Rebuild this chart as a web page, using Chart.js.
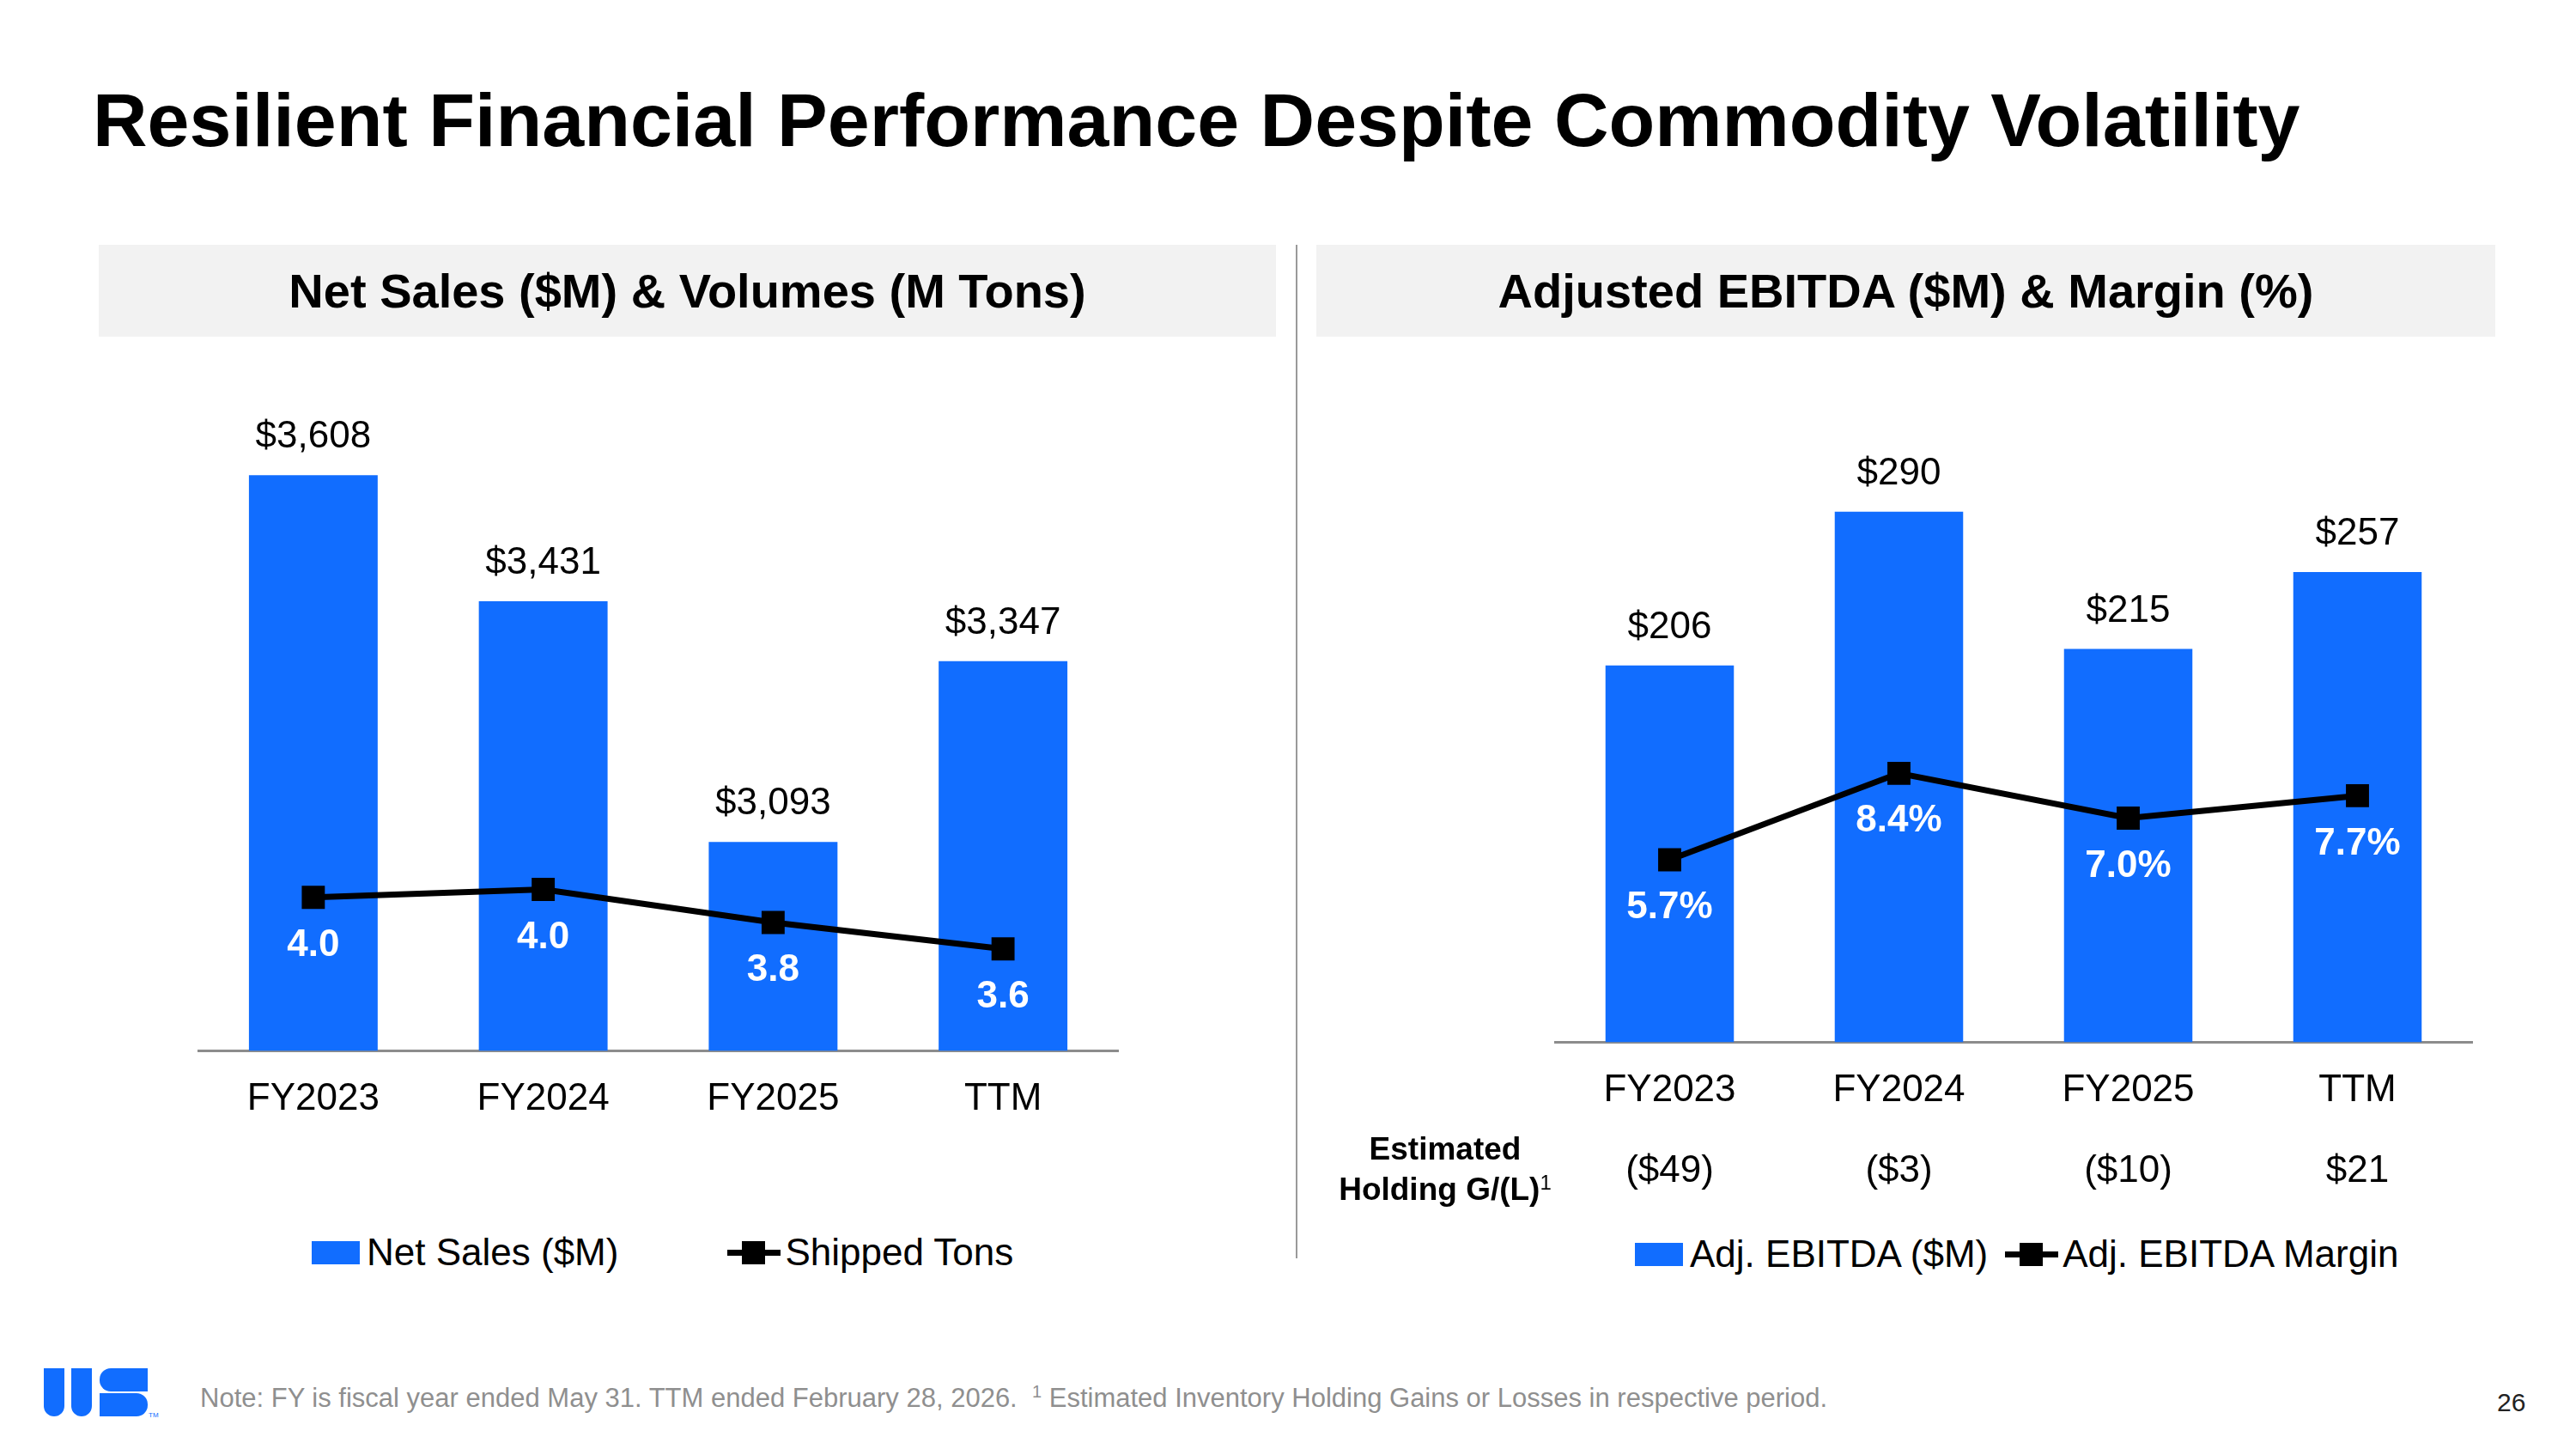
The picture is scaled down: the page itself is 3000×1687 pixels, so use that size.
<!DOCTYPE html>
<html>
<head>
<meta charset="utf-8">
<title>Resilient Financial Performance</title>
<script src="https://cdn.jsdelivr.net/npm/chart.js@4.4.1/dist/chart.umd.min.js"></script>
<style>
  html, body { margin: 0; padding: 0; background: #fff; }
  body {
    width: 3000px; height: 1687px; position: relative; overflow: hidden;
    font-family: 'Liberation Sans', Arial, sans-serif; color: #000;
  }
  canvas { position: absolute; }
  #title {
    position: absolute; left: 108px; top: 96px;
    font-size: 88px; font-weight: bold; line-height: 1; white-space: nowrap;
  }
  .panel-head {
    position: absolute; top: 285px; height: 107px; background: #f2f2f2;
    display: flex; align-items: center; justify-content: center;
    font-size: 56px; font-weight: bold; line-height: 1; white-space: nowrap;
  }
  #divider { position: absolute; left: 1509px; top: 285px; width: 2px; height: 1180px; background: #9a9a9a; }
  #holdingLabel {
    position: absolute; left: 1533px; top: 1314px; width: 300px;
    text-align: center; font-size: 37px; font-weight: bold; line-height: 47px; white-space: nowrap;
  }
  #holdingLabel sup { font-size: 24px; vertical-align: 12px; line-height: 0; font-weight: normal; }
  .legend {
    position: absolute; display: flex; align-items: center;
    height: 44px; font-size: 44px; line-height: 1; white-space: nowrap;
  }
  .leg-item { display: flex; align-items: center; }
  .key-bar { width: 56px; height: 27px; margin-right: 8px; }
  .key-line { position: relative; width: 62px; height: 27px; margin-right: 5px; }
  .key-line::before { content: ''; position: absolute; left: 0; right: 0; top: 10px; height: 7px; background: #000; }
  .key-line::after { content: ''; position: absolute; left: 17px; top: 0; width: 27px; height: 27px; background: #000; }
  #note {
    position: absolute; left: 233px; top: 1612px;
    font-size: 31px; line-height: 1; color: #8f8f8f; white-space: nowrap;
  }
  #note sup { font-size: 20px; vertical-align: 11px; line-height: 0; }
  #pageNo { position: absolute; left: 2908px; top: 1618px; font-size: 30px; line-height: 1; color: #222; }
  .logo { position: absolute; background: #116dff; }
  #tm { position: absolute; left: 173px; top: 1643px; font-size: 8px; color: #116dff; }
</style>
</head>
<body>

<div id="title">Resilient Financial Performance Despite Commodity Volatility</div>

<div class="panel-head" style="left:115px; width:1371px;">Net Sales ($M) &amp; Volumes (M Tons)</div>
<div class="panel-head" style="left:1533px; width:1373px;">Adjusted EBITDA ($M) &amp; Margin (%)</div>
<div id="divider"></div>

<canvas id="salesChart" width="1371" height="940" style="left:115px; top:400px;"></canvas>
<canvas id="ebitdaChart" width="1480" height="1010" style="left:1520px; top:400px;"></canvas>

<div id="holdingLabel">Estimated<br>Holding G/(L)<sup>1</sup></div>

<div class="legend" id="legendSales" style="left:363px; top:1436px;"></div>
<div class="legend" id="legendEbitda" style="left:1904px; top:1438px;"></div>

<div class="logo" style="left:51px; top:1593px; width:24px; height:56px; border-radius:0 0 12px 12px;"></div>
<div class="logo" style="left:83px; top:1593px; width:24px; height:56px; border-radius:0 0 12px 12px;"></div>
<div class="logo" style="left:116px; top:1593px; width:56px; height:27px; border-radius:13px 0 0 13px;"></div>
<div class="logo" style="left:116px; top:1622px; width:56px; height:27px; border-radius:0 13px 13px 0;"></div>
<div id="tm">TM</div>

<div id="note">Note: FY is fiscal year ended May 31. TTM ended February 28, 2026.&nbsp; <sup>1</sup> Estimated Inventory Holding Gains or Losses in respective period.</div>
<div id="pageNo">26</div>

<script>
// data
const periods = ['FY2023', 'FY2024', 'FY2025', 'TTM'];
const netSales = [3608, 3431, 3093, 3347];
const shippedTons = [3.96, 4.02, 3.77, 3.57];
const adjEbitda = [206, 290, 215, 257];
const ebitdaMargin = [5.7, 8.4, 7.0, 7.7];
const holdingGL = [-49, -3, -10, 21];

const BLUE = '#116dff';
const FONT = "'Liberation Sans', Arial, sans-serif";

Chart.defaults.font.family = FONT;
Chart.defaults.color = '#000';

const dollars = v => (v < 0 ? '($' + Math.abs(v).toLocaleString('en-US') + ')' : '$' + v.toLocaleString('en-US'));
const oneDec = v => v.toFixed(1);
const pct = v => v.toFixed(1) + '%';

// values above the bars, white bold values under the line points
function valueLabels(formats) {
  return {
    id: 'valueLabels',
    afterDatasetsDraw(chart) {
      const ctx = chart.ctx;
      ctx.save();
      ctx.textAlign = 'center';
      ctx.textBaseline = 'middle';
      chart.data.datasets.forEach((ds, i) => {
        const meta = chart.getDatasetMeta(i);
        meta.data.forEach((el, j) => {
          const txt = formats[i](ds.data[j]);
          if (ds.type === 'bar') {
            ctx.font = '44px ' + FONT;
            ctx.fillStyle = '#000';
            ctx.fillText(txt, el.x, el.y - 44);
          } else {
            ctx.font = 'bold 44px ' + FONT;
            ctx.fillStyle = '#fff';
            ctx.fillText(txt, el.x, el.y + 56);
          }
        });
      });
      ctx.restore();
    }
  };
}

function buildLegend(chart, id, gap) {
  const box = document.getElementById(id);
  chart.data.datasets.forEach((ds, i) => {
    const item = document.createElement('span');
    item.className = 'leg-item';
    if (i > 0) item.style.marginLeft = gap + 'px';
    const key = document.createElement('span');
    if (ds.type === 'bar') {
      key.className = 'key-bar';
      key.style.background = ds.backgroundColor;
    } else {
      key.className = 'key-line';
    }
    const txt = document.createElement('span');
    txt.textContent = ds.label;
    item.appendChild(key);
    item.appendChild(txt);
    box.appendChild(item);
  });
}

const xAxis = {
  grid: { display: false, drawTicks: false },
  border: { display: true, color: '#8c8c8c', width: 3 },
  ticks: { padding: 30, font: { size: 44, lineHeight: 1.2 }, color: '#000', maxRotation: 0, autoSkip: false }
};

const salesChart = new Chart(document.getElementById('salesChart'), {
  type: 'bar',
  data: {
    labels: periods,
    datasets: [
      {
        type: 'bar',
        label: 'Net Sales ($M)',
        data: netSales,
        backgroundColor: BLUE,
        barPercentage: 0.56,
        categoryPercentage: 1,
        yAxisID: 'y',
        order: 2
      },
      {
        type: 'line',
        label: 'Shipped Tons',
        data: shippedTons,
        borderColor: '#000',
        borderWidth: 7,
        pointStyle: 'rect',
        pointRadius: 19,
        pointBackgroundColor: '#000',
        pointBorderWidth: 0,
        tension: 0,
        yAxisID: 'y1',
        order: 1
      }
    ]
  },
  options: {
    responsive: false,
    animation: false,
    layout: { padding: { left: 116, right: 184, top: 77, bottom: 4 } },
    scales: {
      x: xAxis,
      y: { display: false, min: 2800, max: 3700 },
      y1: { display: false, min: 2.8, max: 7.65 }
    },
    plugins: {
      legend: { display: false },
      tooltip: { enabled: false }
    }
  },
  plugins: [valueLabels([dollars, oneDec])]
});

const ebitdaChart = new Chart(document.getElementById('ebitdaChart'), {
  type: 'bar',
  data: {
    labels: periods,
    datasets: [
      {
        type: 'bar',
        label: 'Adj. EBITDA ($M)',
        data: adjEbitda,
        backgroundColor: BLUE,
        barPercentage: 0.56,
        categoryPercentage: 1,
        yAxisID: 'y',
        order: 2
      },
      {
        type: 'line',
        label: 'Adj. EBITDA Margin',
        data: ebitdaMargin,
        borderColor: '#000',
        borderWidth: 7,
        pointStyle: 'rect',
        pointRadius: 19,
        pointBackgroundColor: '#000',
        pointBorderWidth: 0,
        tension: 0,
        yAxisID: 'y1',
        order: 1
      }
    ]
  },
  options: {
    responsive: false,
    animation: false,
    layout: { padding: { left: 291, right: 121, top: 68, bottom: 9 } },
    scales: {
      x: xAxis,
      // second row of category labels: estimated holding gains / losses
      x2: {
        type: 'category',
        position: 'bottom',
        weight: 1,
        offset: true,
        labels: holdingGL.map(dollars),
        grid: { display: false, drawTicks: false },
        border: { display: false },
        ticks: { padding: 11, font: { size: 44, lineHeight: 1.2 }, color: '#000', maxRotation: 0, autoSkip: false }
      },
      y: { display: false, min: 0, max: 350 },
      y1: { display: false, min: 0, max: 20 }
    },
    plugins: {
      legend: { display: false },
      tooltip: { enabled: false }
    }
  },
  plugins: [valueLabels([dollars, pct])]
});

buildLegend(salesChart, 'legendSales', 127);
buildLegend(ebitdaChart, 'legendEbitda', 20);
</script>
</body>
</html>
